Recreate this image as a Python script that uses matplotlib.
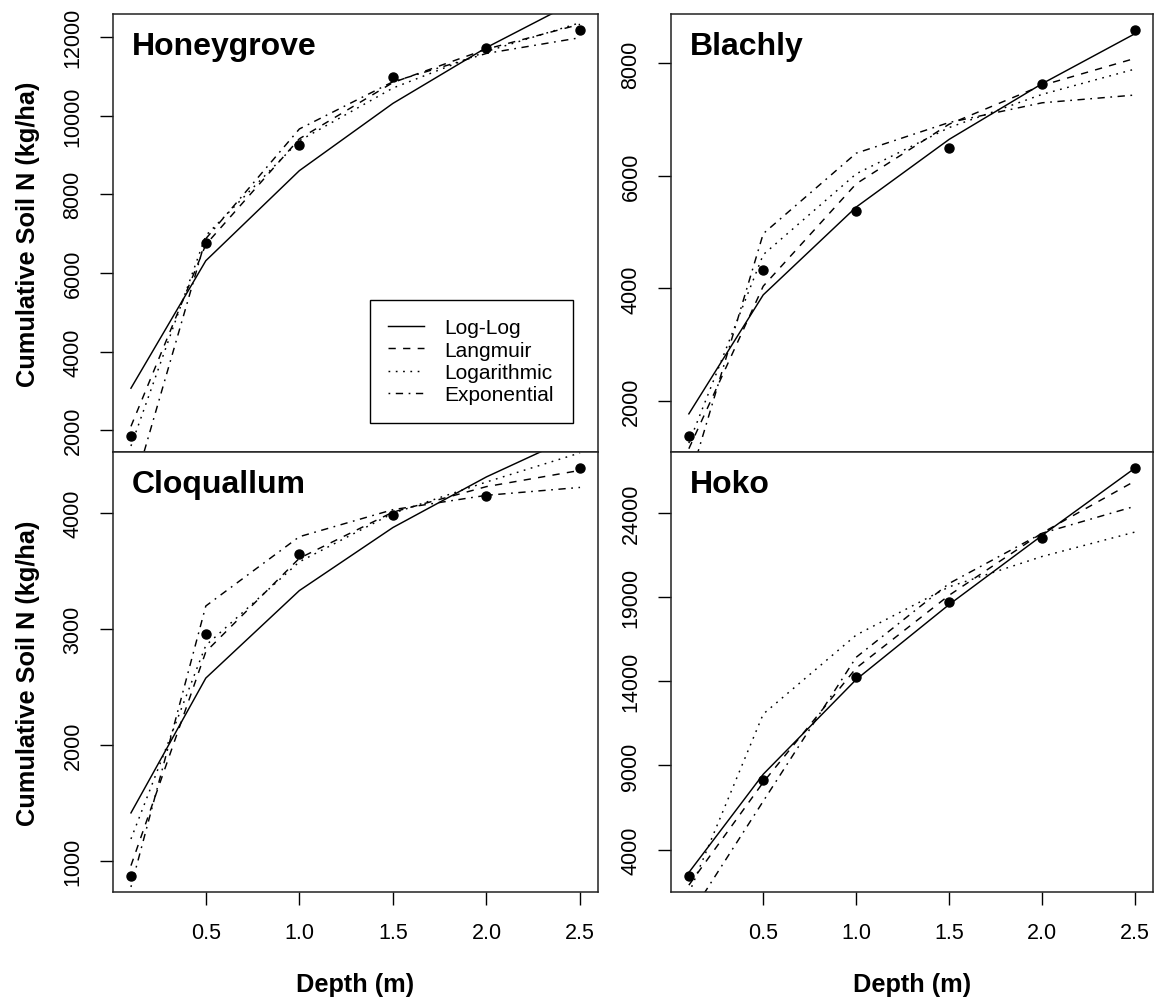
import matplotlib
matplotlib.use("Agg")
import matplotlib.pyplot as plt
from matplotlib.lines import Line2D

plt.rcParams["font.family"] = ["Liberation Sans", "DejaVu Sans"]

# Sampling depths (m)
depth = [0.1, 0.5, 1.0, 1.5, 2.0, 2.5]

site_names = ["Honeygrove", "Blachly", "Cloquallum", "Hoko"]
model_names = ["Log-Log", "Langmuir", "Logarithmic", "Exponential"]

# Measured cumulative soil N (kg/ha)
honeygrove_obs = [1860, 6750, 9240, 10990, 11730, 12170]
blachly_obs = [1380, 4320, 5375, 6500, 7630, 8590]
cloquallum_obs = [873, 2957, 3652, 3984, 4149, 4388]
hoko_obs = [2460, 8120, 14270, 18690, 22490, 26630]

# Fitted curves evaluated at the sampling depths
honeygrove_loglog = [3070, 6310, 8600, 10310, 11730, 12960]
honeygrove_langmuir = [2100, 6720, 9410, 10840, 11690, 12320]
honeygrove_logarithmic = [1600, 6950, 9360, 10700, 11630, 12360]
honeygrove_exponential = [300, 6870, 9660, 10860, 11580, 11980]

blachly_loglog = [1770, 3885, 5446, 6650, 7640, 8530]
blachly_langmuir = [1150, 4040, 5860, 6920, 7610, 8090]
blachly_logarithmic = [1250, 4600, 6037, 6860, 7450, 7900]
blachly_exponential = [550, 4973, 6404, 6950, 7300, 7438]

cloquallum_loglog = [1415, 2578, 3333, 3877, 4314, 4687]
cloquallum_langmuir = [960, 2805, 3612, 4010, 4230, 4370]
cloquallum_logarithmic = [1190, 2860, 3581, 4000, 4270, 4521]
cloquallum_exponential = [776, 3200, 3798, 4031, 4155, 4223]

hoko_loglog = [2650, 8480, 14100, 18550, 22650, 26650]
hoko_langmuir = [1900, 8000, 14780, 19100, 22800, 25880]
hoko_logarithmic = [1400, 12050, 16740, 19600, 21400, 22850]
hoko_exponential = [0, 6880, 15420, 19800, 22780, 24380]

# Y-axis tick values per site
honeygrove_yticks = [2000, 4000, 6000, 8000, 10000, 12000]
blachly_yticks = [2000, 4000, 6000, 8000]
cloquallum_yticks = [1000, 2000, 3000, 4000]
hoko_yticks = [4000, 9000, 14000, 19000, 24000]

xticks = [0.5, 1.0, 1.5, 2.0, 2.5]
xtick_labels = ["0.5", "1.0", "1.5", "2.0", "2.5"]

sites = {
    "Honeygrove": (honeygrove_obs, [honeygrove_loglog, honeygrove_langmuir,
                                    honeygrove_logarithmic, honeygrove_exponential],
                   honeygrove_yticks),
    "Blachly": (blachly_obs, [blachly_loglog, blachly_langmuir,
                              blachly_logarithmic, blachly_exponential],
                blachly_yticks),
    "Cloquallum": (cloquallum_obs, [cloquallum_loglog, cloquallum_langmuir,
                                    cloquallum_logarithmic, cloquallum_exponential],
                   cloquallum_yticks),
    "Hoko": (hoko_obs, [hoko_loglog, hoko_langmuir,
                        hoko_logarithmic, hoko_exponential],
             hoko_yticks),
}

# Base-graphics style line types (dash lengths in points)
line_styles = ["-", (0, (5.0, 5.0)), (0, (1.2, 3.8)), (0, (1.2, 3.8, 5.0, 3.8))]

W, H = 1155, 1003
fig = plt.figure(figsize=(W / 100, H / 100), dpi=100, facecolor="white")

col_x = [(113, 598), (671, 1153)]
row_y = [(15, 453), (453, 893)]


def px_rect(x0, x1, y0, y1):
    return [x0 / W, 1 - y1 / H, (x1 - x0) / W, (y1 - y0) / H]


def padded(vals, frac=0.04):
    lo, hi = min(vals), max(vals)
    r = hi - lo
    return lo - frac * r, hi + frac * r


tick_fs = 15.5
label_fs = 18.3
for i, name in enumerate(site_names):
    row, col = divmod(i, 2)
    ax = fig.add_axes(px_rect(*col_x[col], *row_y[row]))
    obs, fits, yt = sites[name]

    for fit, ls in zip(fits, line_styles):
        ax.plot(depth, fit, color="black", lw=1.05, linestyle=ls,
                dash_capstyle="butt", solid_joinstyle="miter")
    ax.plot(depth, obs, "o", color="black", ms=6.5, zorder=5)

    ax.set_xlim(*padded(depth))
    ax.set_ylim(*padded(obs))

    ax.set_yticks(yt)
    ax.set_yticklabels([str(v) for v in yt], rotation=90, va="center",
                       fontsize=tick_fs)
    ax.tick_params(axis="y", direction="out", length=9.3, width=1.0,
                   pad=12.0)
    if row == 1:
        ax.set_xticks(xticks)
        ax.set_xticklabels(xtick_labels, fontsize=tick_fs)
        ax.tick_params(axis="x", direction="out", length=9.3, width=1.0,
                       pad=12.5)
        ax.set_xlabel("Depth (m)", fontsize=label_fs, fontweight="bold",
                      labelpad=21)
    else:
        ax.set_xticks([])

    if col == 0:
        ax.set_ylabel("Cumulative Soil N (kg/ha)", fontsize=label_fs,
                      fontweight="bold", labelpad=16)

    for sp in ax.spines.values():
        sp.set_linewidth(1.1)
        sp.set_color("#222222")

    ax.annotate(name, xy=(0, 1), xycoords="axes fraction",
                xytext=(13.7, -29.0), textcoords="offset points",
                ha="left", va="baseline", fontsize=23, fontweight="bold")

    if i == 0:
        handles = [Line2D([], [], color="black", lw=1.05, linestyle=ls,
                          dash_capstyle="butt") for ls in line_styles]
        leg = ax.legend(handles, model_names, loc="lower right",
                        bbox_to_anchor=(0.948, 0.066), borderaxespad=0,
                        fontsize=15, frameon=True, fancybox=False,
                        edgecolor="black", framealpha=1,
                        handlelength=1.7, handletextpad=1.0,
                        borderpad=0.9, labelspacing=0.16)
        leg.get_frame().set_linewidth(1.0)

fig.savefig("out.png", dpi=100, facecolor="white")
